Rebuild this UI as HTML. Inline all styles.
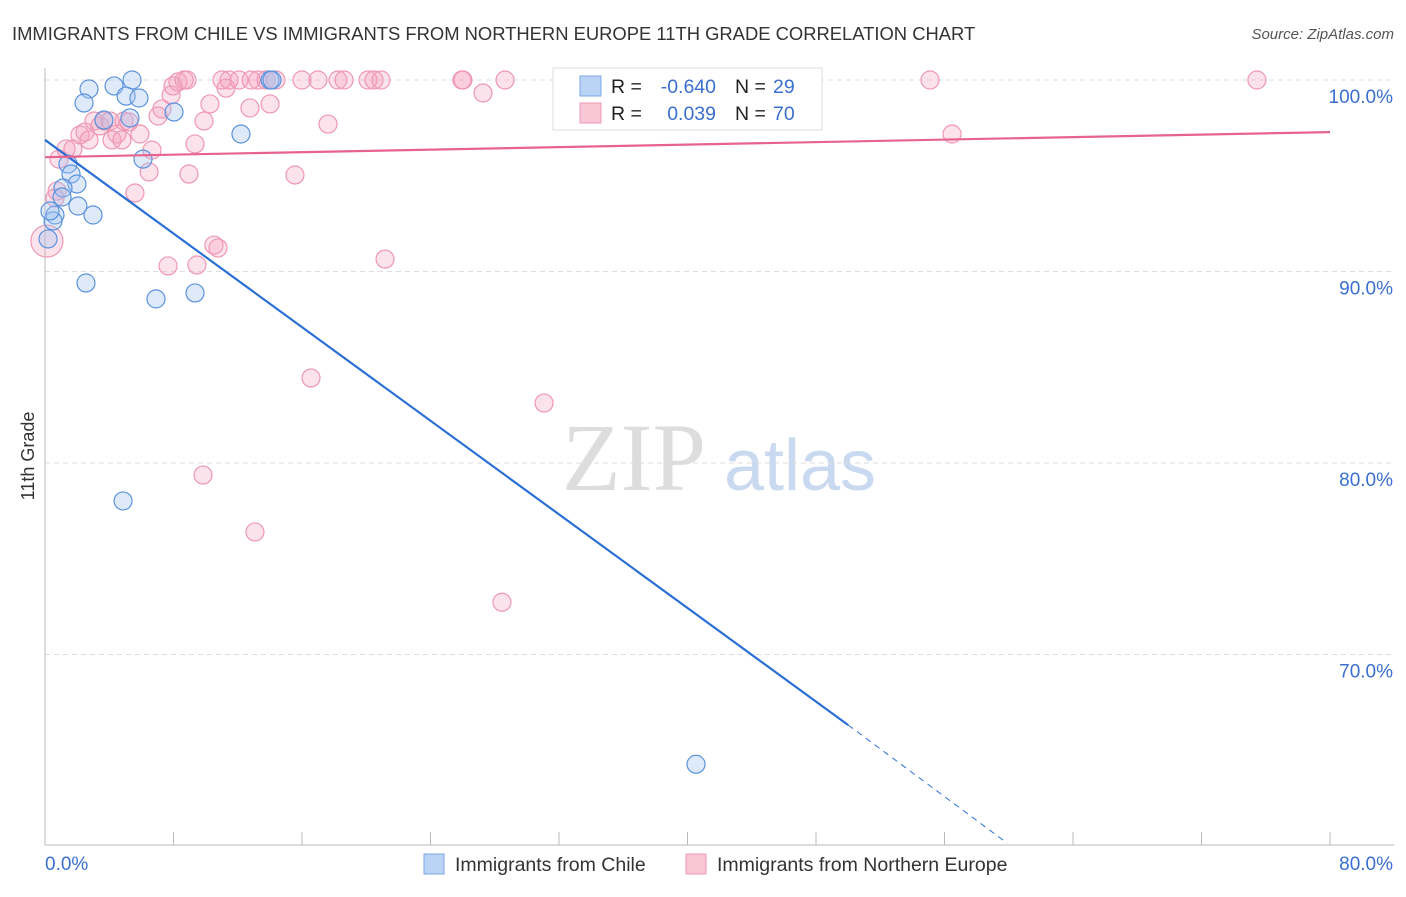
<!DOCTYPE html>
<html><head><meta charset="utf-8">
<style>
body{margin:0;background:#fff;font-family:"Liberation Sans",sans-serif;}
svg text{font-family:"Liberation Sans",sans-serif;}
</style></head>
<body>
<svg id="chart" width="1406" height="892">
<text x="12" y="40" font-size="18.4" fill="#333">IMMIGRANTS FROM CHILE VS IMMIGRANTS FROM NORTHERN EUROPE 11TH GRADE CORRELATION CHART</text>
<text x="1394" y="39" font-size="15" font-style="italic" fill="#555" text-anchor="end">Source: ZipAtlas.com</text>
<text x="34" y="456" font-size="18" fill="#333" transform="rotate(-90 34 456)" text-anchor="middle">11th Grade</text>
<g>
<text x="634" y="490" font-size="96" fill="#ddd" text-anchor="middle" font-family="Liberation Serif" style="font-family:'Liberation Serif',serif">ZIP</text>
<text x="800" y="490" font-size="72" fill="#c9d9f0" text-anchor="middle">atlas</text>
</g>
<g id="grid"></g><g id="axes"></g><g id="pts"></g><g id="lines"></g>
<g>
<rect x="553" y="68" width="269" height="62" fill="#fff" stroke="#ddd"/>
<rect x="580" y="76" width="21" height="20" fill="#b9d3f5" stroke="#7aa7e6"/>
<rect x="580" y="103" width="21" height="20" fill="#f9c6d6" stroke="#eb9ab4"/>
<text x="611" y="93" font-size="19.5" fill="#222">R =</text>
<text x="716" y="93" font-size="19.5" fill="#3a6fd0" text-anchor="end">-0.640</text>
<text x="735" y="93" font-size="19.5" fill="#222">N =</text>
<text x="773" y="93" font-size="19.5" fill="#3a6fd0">29</text>
<text x="611" y="120" font-size="19.5" fill="#222">R =</text>
<text x="716" y="120" font-size="19.5" fill="#3a6fd0" text-anchor="end">0.039</text>
<text x="735" y="120" font-size="19.5" fill="#222">N =</text>
<text x="773" y="120" font-size="19.5" fill="#3a6fd0">70</text>
</g>
<g>
<rect x="424" y="854" width="20" height="20" fill="#b9d3f5" stroke="#7aa7e6"/>
<text x="455" y="871" font-size="19.5" fill="#333">Immigrants from Chile</text>
<rect x="686" y="854" width="20" height="20" fill="#f9c6d6" stroke="#eb9ab4"/>
<text x="717" y="871" font-size="19.5" fill="#333">Immigrants from Northern Europe</text>
</g>
</svg>
<script>
const yTicks=[70,80,90,100];
const xTickLabels=["0.0%","80.0%"];
const chileX=[5.42,4.30,2.74,5.05,5.85,2.43,8.03,3.67,5.29,12.20,6.10,1.43,1.62,1.99,1.12,1.06,2.05,2.99,0.62,0.50,0.19,2.55,6.91,9.34,4.86,40.53,14.01,14.13,0.31];
const chileY=[100,99.69,99.53,99.16,99.06,98.80,98.33,97.91,98.02,97.18,95.87,95.61,95.09,94.57,94.36,93.89,93.42,92.95,92.95,92.64,91.70,89.40,88.57,88.88,78.02,64.27,100,100,93.16];
const neX=[0.12,0.75,0.62,0.87,1.31,1.74,2.18,2.49,2.74,3.05,3.42,3.67,4.05,4.17,4.48,4.79,4.92,5.23,5.60,5.91,6.48,6.66,7.04,7.28,7.85,7.97,8.28,8.66,8.84,9.34,8.96,9.90,10.27,10.52,10.77,11.27,11.46,12.08,12.76,13.26,13.76,14.01,12.83,14.38,15.56,16.00,16.99,17.62,18.24,18.62,16.56,20.11,20.48,20.92,21.17,7.66,9.46,9.84,13.07,25.96,26.02,27.27,28.64,28.45,31.07,33.00,55.10,56.47,75.45,11.02];
const neY=[91.59,94.20,93.84,95.87,96.40,96.40,97.13,97.28,96.87,97.86,97.60,97.86,97.86,96.87,97.18,96.87,97.86,97.81,94.10,97.18,95.20,96.34,98.12,98.49,99.22,99.69,99.90,100,100,96.66,95.09,97.86,98.75,91.38,91.23,99.58,100,100,98.54,100,100,98.75,100,100,95.04,100,100,97.70,100,100,84.44,100,100,100,90.65,90.29,90.34,79.37,76.40,100,100,99.32,100,72.73,83.13,100,100,97.18,100,100];
const chileTrend=[[0,96.87],[50.0,66.32]];
const chileTrendExt=[[50.0,66.32],[59.9,60.15]];
const neTrend=[[0,95.97],[80,97.28]];
const X=v=>45+v/80*1285, Y=v=>80+(100-v)*19.15;
const ns="http://www.w3.org/2000/svg";
function mk(tag,attrs,parent){const e=document.createElementNS(ns,tag);for(const k in attrs)e.setAttribute(k,attrs[k]);document.getElementById(parent).appendChild(e);return e;}
yTicks.forEach(t=>{
 const g=mk('line',{x1:45,x2:1394,y1:Y(t),y2:Y(t),stroke:'#ddd','stroke-dasharray':'5,4'},'grid');
 
 
 const l=mk('text',{x:1393,y:Y(t)+23,'font-size':19,fill:'#3a6fd0','text-anchor':'end'},'grid');
 l.textContent=t.toFixed(1)+'%';
 
 
});
const ax=mk('line',{x1:45,x2:45,y1:68,y2:845,stroke:'#bbb'},'axes');


const bx=mk('line',{x1:45,x2:1394,y1:845,y2:845,stroke:'#bbb'},'axes');


for(let i=0;i<=10;i++){
 const t=mk('line',{x1:X(i*8),x2:X(i*8),y1:832,y2:845,stroke:'#bbb'},'axes');
 
 
}
xTickLabels.forEach((s,i)=>{
 const t=mk('text',{x:i?1393:45,y:870,'font-size':19,fill:'#3a6fd0','text-anchor':i?'end':'start'},'axes');
 t.textContent=s;
 
 
});
neX.forEach((x,i)=>{
 const c=mk('circle',{cx:X(x),cy:Y(neY[i]),r:i===0?16:9,fill:'rgba(244,160,188,0.3)',stroke:'#ee97b3','stroke-width':1.2},'pts');
 
 
});
chileX.forEach((x,i)=>{
 const c=mk('circle',{cx:X(x),cy:Y(chileY[i]),r:9,fill:'rgba(160,196,240,0.35)',stroke:'#5b93de','stroke-width':1.2},'pts');
 
 
});
const l1=mk('line',{x1:X(chileTrend[0][0]),y1:Y(chileTrend[0][1]),x2:X(chileTrend[1][0]),y2:Y(chileTrend[1][1]),stroke:'#2a6fd6','stroke-width':2.2},'lines');


const l2=mk('line',{x1:X(chileTrendExt[0][0]),y1:Y(chileTrendExt[0][1]),x2:X(chileTrendExt[1][0]),y2:Y(chileTrendExt[1][1]),stroke:'#2a6fd6','stroke-width':1,'stroke-dasharray':'6,5'},'lines');


const l3=mk('line',{x1:X(neTrend[0][0]),y1:Y(neTrend[0][1]),x2:X(neTrend[1][0]),y2:Y(neTrend[1][1]),stroke:'#e8628e','stroke-width':2.2},'lines');


</script>
</body></html>
